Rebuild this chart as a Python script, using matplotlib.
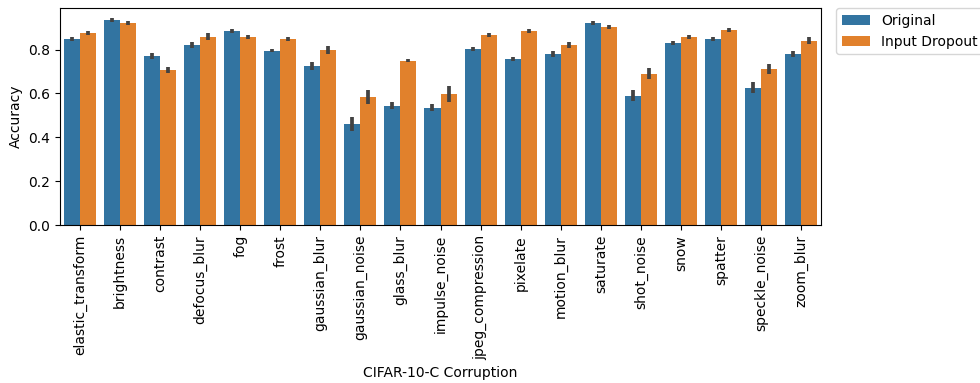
import numpy as np
import matplotlib.pyplot as plt

corruptions = ['elastic_transform', 'brightness', 'contrast', 'defocus_blur', 'fog',
               'frost', 'gaussian_blur', 'gaussian_noise', 'glass_blur', 'impulse_noise',
               'jpeg_compression', 'pixelate', 'motion_blur', 'saturate', 'shot_noise',
               'snow', 'spatter', 'speckle_noise', 'zoom_blur']

original = [0.849, 0.935, 0.771, 0.821, 0.885, 0.794, 0.726, 0.462, 0.544, 0.535,
            0.803, 0.758, 0.781, 0.921, 0.589, 0.830, 0.849, 0.625, 0.781]
original_err = [0.008, 0.008, 0.012, 0.012, 0.008, 0.007, 0.018, 0.032, 0.016, 0.016,
                0.009, 0.008, 0.014, 0.007, 0.025, 0.008, 0.008, 0.025, 0.014]

dropout = [0.876, 0.921, 0.707, 0.858, 0.858, 0.849, 0.799, 0.585, 0.749, 0.598,
           0.867, 0.885, 0.821, 0.903, 0.689, 0.858, 0.889, 0.712, 0.839]
dropout_err = [0.010, 0.008, 0.012, 0.016, 0.010, 0.010, 0.018, 0.032, 0.007, 0.038,
               0.008, 0.008, 0.012, 0.008, 0.025, 0.010, 0.010, 0.024, 0.016]

x = np.arange(len(corruptions))
w = 0.4

fig, ax = plt.subplots(figsize=(9.8, 3.83), dpi=100)
fig.subplots_adjust(left=0.061, right=0.838, top=0.979, bottom=0.412)

ax.bar(x - w / 2, original, width=w, color='#3274a1', label='Original')
ax.bar(x + w / 2, dropout, width=w, color='#e1812c', label='Input Dropout')
ax.errorbar(x - w / 2, original, yerr=original_err, fmt='none', ecolor='#424242', elinewidth=2.7)
ax.errorbar(x + w / 2, dropout, yerr=dropout_err, fmt='none', ecolor='#424242', elinewidth=2.7)

ax.set_xticks(x)
ax.set_xticklabels(corruptions, rotation=90)
ax.set_xlim(-0.5, len(corruptions) - 0.5)
ax.set_ylim(0, 0.989)
ax.set_xlabel('CIFAR-10-C Corruption')
ax.set_ylabel('Accuracy')
ax.legend(bbox_to_anchor=(1.02, 1), loc='upper left', borderaxespad=0)

fig.savefig('out.png', dpi=100)
